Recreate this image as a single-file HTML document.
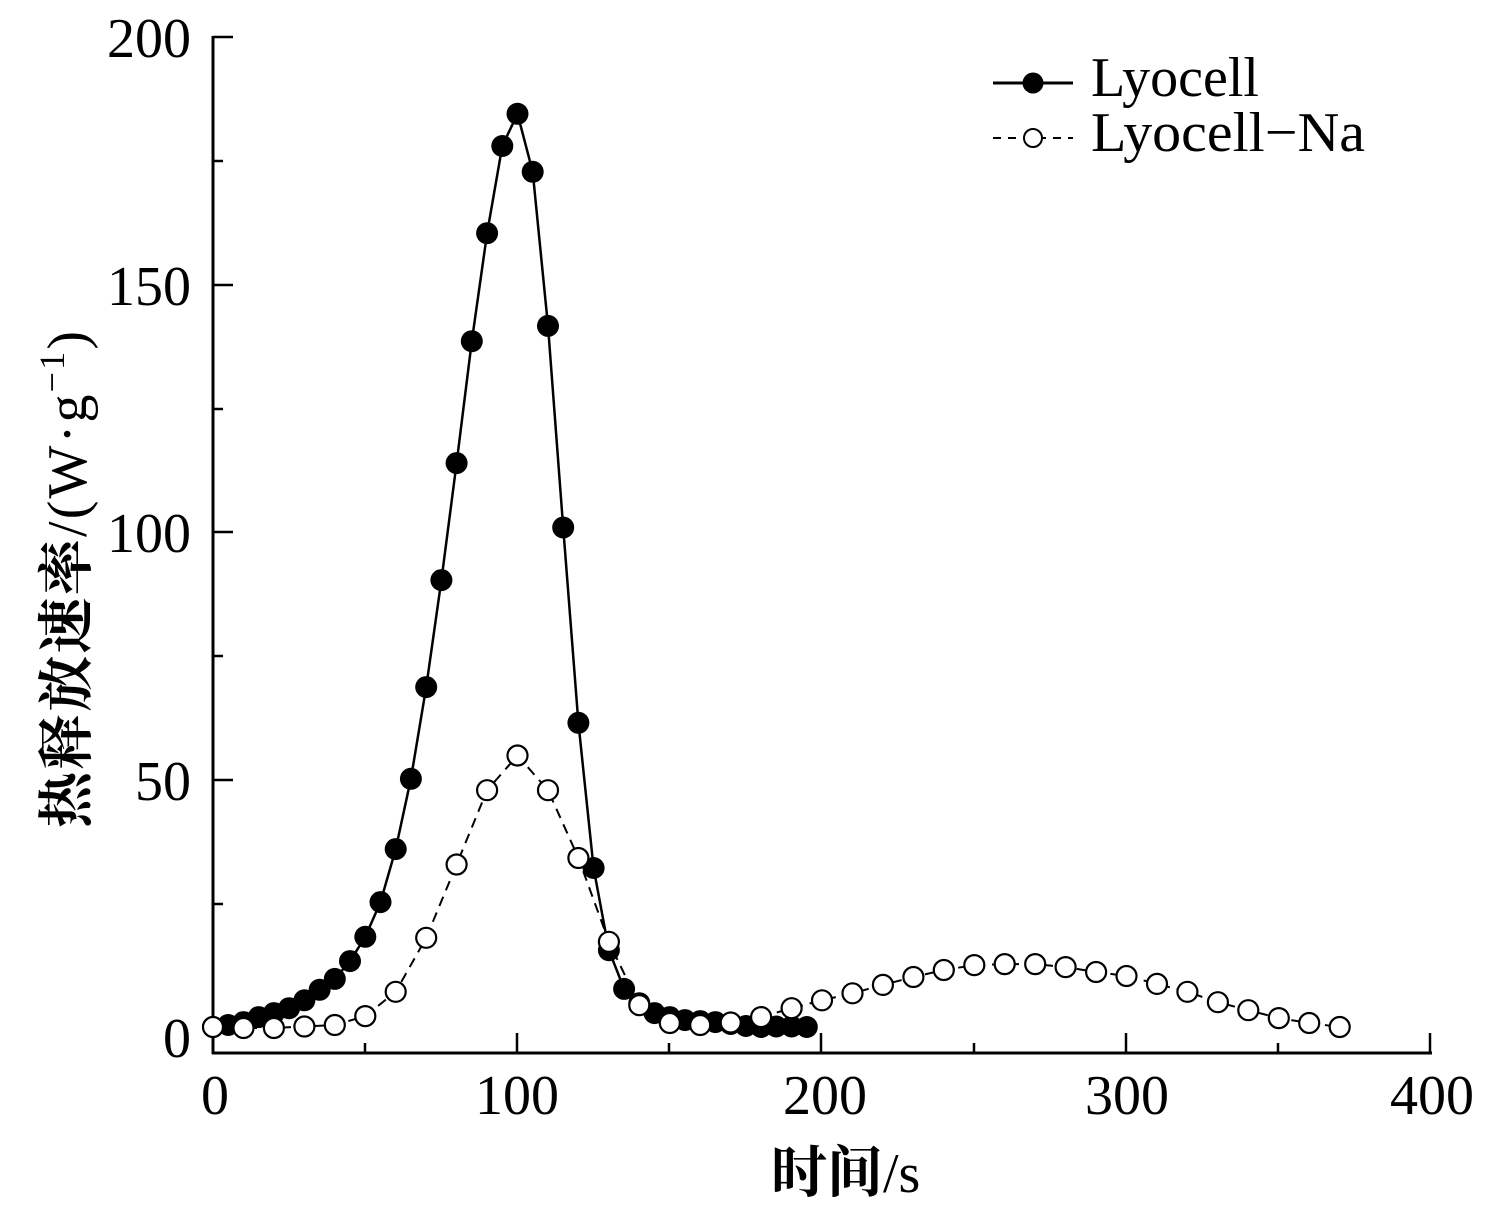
<!DOCTYPE html>
<html>
<head>
<meta charset="utf-8">
<style>
  html, body { margin:0; padding:0; background:#fff; }
  svg { display:block; }
  .num { font-family: "Liberation Serif", serif; font-size:56px; fill:#000; }
  .cjk { font-family: "Liberation Serif", "Noto Serif CJK SC", serif; font-weight:700; font-size:56px; fill:#000; }
</style>
</head>
<body>
<svg width="1512" height="1222" viewBox="0 0 1512 1222" xmlns="http://www.w3.org/2000/svg">
  <rect width="1512" height="1222" fill="#fff"/>

  <g stroke="#000" stroke-width="3" fill="none">
    <line x1="213" y1="36" x2="213" y2="1054"/>
    <line x1="212" y1="1053" x2="1432" y2="1053"/>
  </g>
  <g stroke="#000" stroke-width="2.5">
    <line x1="213" y1="37" x2="233" y2="37"/>
    <line x1="213" y1="161" x2="223" y2="161"/>
    <line x1="213" y1="285" x2="233" y2="285"/>
    <line x1="213" y1="409" x2="223" y2="409"/>
    <line x1="213" y1="532" x2="233" y2="532"/>
    <line x1="213" y1="656" x2="223" y2="656"/>
    <line x1="213" y1="780" x2="233" y2="780"/>
    <line x1="213" y1="904" x2="223" y2="904"/>
    <line x1="213" y1="1028" x2="233" y2="1028"/>
  </g>
  <g stroke="#000" stroke-width="2.5">
    <line x1="365" y1="1053" x2="365" y2="1043"/>
    <line x1="517" y1="1053" x2="517" y2="1033"/>
    <line x1="669" y1="1053" x2="669" y2="1043"/>
    <line x1="821" y1="1053" x2="821" y2="1033"/>
    <line x1="974" y1="1053" x2="974" y2="1043"/>
    <line x1="1126" y1="1053" x2="1126" y2="1033"/>
    <line x1="1278" y1="1053" x2="1278" y2="1043"/>
    <line x1="1430" y1="1053" x2="1430" y2="1033"/>
  </g>

  <g class="num" text-anchor="end">
    <text x="191" y="57">200</text>
    <text x="191" y="305">150</text>
    <text x="191" y="552">100</text>
    <text x="191" y="800">50</text>
    <text x="191" y="1057">0</text>
  </g>
  <g class="num" text-anchor="middle">
    <text x="215" y="1114">0</text>
    <text x="517" y="1114">100</text>
    <text x="825" y="1114">200</text>
    <text x="1127" y="1114">300</text>
    <text x="1432" y="1114">400</text>
  </g>

  <text class="cjk" x="771" y="1192">时间<tspan font-weight="400">/s</tspan></text>
  <text class="cjk" transform="translate(86,828) rotate(-90)" x="0" y="0" textLength="497" lengthAdjust="spacing">热释放速率<tspan font-weight="400">/(W·g</tspan><tspan font-weight="400" font-size="36" dy="-22">−1</tspan><tspan font-weight="400" dy="22">)</tspan></text>

  <polyline fill="none" stroke="#000" stroke-width="2.5" stroke-linejoin="round"
    points="213,1027 228.2,1025 243.5,1022.1 258.7,1017.1 273.9,1013.1 289.1,1008.2 304.4,1000.3 319.6,989.8 334.8,978.9 350,961.1 365.3,936.8 380.5,902.1 395.7,849.1 410.9,778.8 426.2,687.1 441.4,580.1 456.6,463.1 471.8,341.2 487.1,233.2 502.3,146 517.5,113.8 532.7,171.8 548,325.9 563.2,527.5 578.4,722.8 593.6,868 608.9,950.2 624.1,988.9 639.3,1003.2 654.5,1013.1 669.8,1017.1 685,1020.1 700.2,1021.1 715.4,1022.1 730.7,1024 745.9,1026 761.1,1027 776.3,1026.5 791.6,1026.5 806.8,1027"/>
  <g fill="#000">
    <circle cx="213" cy="1027" r="11"/>
    <circle cx="228.2" cy="1025" r="11"/>
    <circle cx="243.5" cy="1022.1" r="11"/>
    <circle cx="258.7" cy="1017.1" r="11"/>
    <circle cx="273.9" cy="1013.1" r="11"/>
    <circle cx="289.1" cy="1008.2" r="11"/>
    <circle cx="304.4" cy="1000.3" r="11"/>
    <circle cx="319.6" cy="989.8" r="11"/>
    <circle cx="334.8" cy="978.9" r="11"/>
    <circle cx="350" cy="961.1" r="11"/>
    <circle cx="365.3" cy="936.8" r="11"/>
    <circle cx="380.5" cy="902.1" r="11"/>
    <circle cx="395.7" cy="849.1" r="11"/>
    <circle cx="410.9" cy="778.8" r="11"/>
    <circle cx="426.2" cy="687.1" r="11"/>
    <circle cx="441.4" cy="580.1" r="11"/>
    <circle cx="456.6" cy="463.1" r="11"/>
    <circle cx="471.8" cy="341.2" r="11"/>
    <circle cx="487.1" cy="233.2" r="11"/>
    <circle cx="502.3" cy="146" r="11"/>
    <circle cx="517.5" cy="113.8" r="11"/>
    <circle cx="532.7" cy="171.8" r="11"/>
    <circle cx="548" cy="325.9" r="11"/>
    <circle cx="563.2" cy="527.5" r="11"/>
    <circle cx="578.4" cy="722.8" r="11"/>
    <circle cx="593.6" cy="868" r="11"/>
    <circle cx="608.9" cy="950.2" r="11"/>
    <circle cx="624.1" cy="988.9" r="11"/>
    <circle cx="639.3" cy="1003.2" r="11"/>
    <circle cx="654.5" cy="1013.1" r="11"/>
    <circle cx="669.8" cy="1017.1" r="11"/>
    <circle cx="685" cy="1020.1" r="11"/>
    <circle cx="700.2" cy="1021.1" r="11"/>
    <circle cx="715.4" cy="1022.1" r="11"/>
    <circle cx="730.7" cy="1024" r="11"/>
    <circle cx="745.9" cy="1026" r="11"/>
    <circle cx="761.1" cy="1027" r="11"/>
    <circle cx="776.3" cy="1026.5" r="11"/>
    <circle cx="791.6" cy="1026.5" r="11"/>
    <circle cx="806.8" cy="1027" r="11"/>
  </g>

  <polyline fill="none" stroke="#000" stroke-width="2" stroke-dasharray="10 7" stroke-linejoin="round"
    points="213,1027 243.5,1028 273.9,1028 304.4,1026.5 334.8,1025 365.3,1016.1 395.7,991.8 426.2,937.8 456.6,864.5 487.1,790.2 517.5,755.5 548,790.2 578.4,858 608.9,941.8 639.3,1005.2 669.8,1023 700.2,1025 730.7,1022.5 761.1,1017.1 791.6,1008.2 822,1000.3 852.5,993.3 882.9,984.9 913.4,977 943.8,970 974.3,965.1 1004.7,964.1 1035.2,964.1 1065.6,967.1 1096.1,972 1126.5,976 1157,983.9 1187.4,991.8 1217.9,1002.2 1248.3,1010.2 1278.8,1018.1 1309.2,1023 1339.7,1027"/>
  <g fill="#fff" stroke="#000" stroke-width="2.2">
    <circle cx="213" cy="1027" r="10"/>
    <circle cx="243.5" cy="1028" r="10"/>
    <circle cx="273.9" cy="1028" r="10"/>
    <circle cx="304.4" cy="1026.5" r="10"/>
    <circle cx="334.8" cy="1025" r="10"/>
    <circle cx="365.3" cy="1016.1" r="10"/>
    <circle cx="395.7" cy="991.8" r="10"/>
    <circle cx="426.2" cy="937.8" r="10"/>
    <circle cx="456.6" cy="864.5" r="10"/>
    <circle cx="487.1" cy="790.2" r="10"/>
    <circle cx="517.5" cy="755.5" r="10"/>
    <circle cx="548" cy="790.2" r="10"/>
    <circle cx="578.4" cy="858" r="10"/>
    <circle cx="608.9" cy="941.8" r="10"/>
    <circle cx="639.3" cy="1005.2" r="10"/>
    <circle cx="669.8" cy="1023" r="10"/>
    <circle cx="700.2" cy="1025" r="10"/>
    <circle cx="730.7" cy="1022.5" r="10"/>
    <circle cx="761.1" cy="1017.1" r="10"/>
    <circle cx="791.6" cy="1008.2" r="10"/>
    <circle cx="822" cy="1000.3" r="10"/>
    <circle cx="852.5" cy="993.3" r="10"/>
    <circle cx="882.9" cy="984.9" r="10"/>
    <circle cx="913.4" cy="977" r="10"/>
    <circle cx="943.8" cy="970" r="10"/>
    <circle cx="974.3" cy="965.1" r="10"/>
    <circle cx="1004.7" cy="964.1" r="10"/>
    <circle cx="1035.2" cy="964.1" r="10"/>
    <circle cx="1065.6" cy="967.1" r="10"/>
    <circle cx="1096.1" cy="972" r="10"/>
    <circle cx="1126.5" cy="976" r="10"/>
    <circle cx="1157" cy="983.9" r="10"/>
    <circle cx="1187.4" cy="991.8" r="10"/>
    <circle cx="1217.9" cy="1002.2" r="10"/>
    <circle cx="1248.3" cy="1010.2" r="10"/>
    <circle cx="1278.8" cy="1018.1" r="10"/>
    <circle cx="1309.2" cy="1023" r="10"/>
    <circle cx="1339.7" cy="1027" r="10"/>
  </g>

  <line x1="993" y1="83" x2="1073" y2="83" stroke="#000" stroke-width="3"/>
  <circle cx="1033" cy="83" r="10.5" fill="#000"/>
  <text class="num" x="1091" y="96">Lyocell</text>

  <line x1="993" y1="138" x2="1073" y2="138" stroke="#000" stroke-width="2" stroke-dasharray="8 7"/>
  <circle cx="1033" cy="138" r="9" fill="#fff" stroke="#000" stroke-width="2"/>
  <text class="num" x="1091" y="151" textLength="274" lengthAdjust="spacingAndGlyphs">Lyocell−Na</text>
</svg>
</body>
</html>
